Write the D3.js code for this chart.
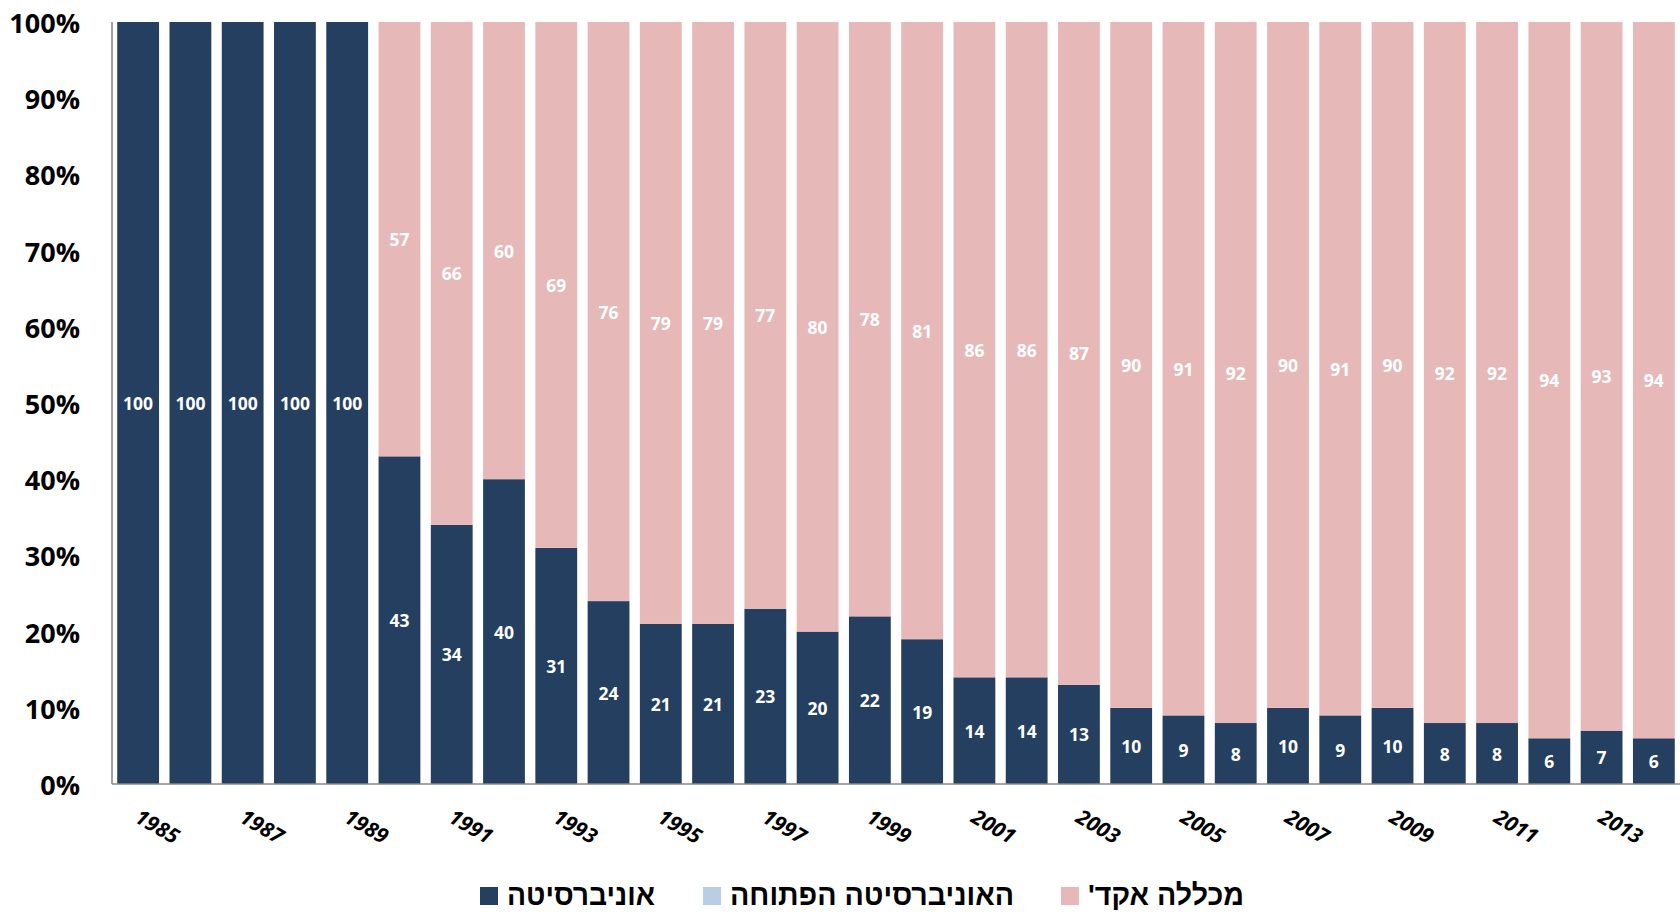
<!DOCTYPE html>
<html>
<head>
<meta charset="utf-8">
<script src="https://cdn.jsdelivr.net/npm/d3@7"></script>
<style>
  html, body { margin: 0; padding: 0; background: #ffffff; }
  svg { display: block; }
</style>
</head>
<body>
<svg id="chart" width="1680" height="913"></svg>
<script>
const years = [1985,1986,1987,1988,1989,1990,1991,1992,1993,1994,1995,1996,1997,1998,1999,2000,2001,2002,2003,2004,2005,2006,2007,2008,2009,2010,2011,2012,2013,2014];
const university = [100,100,100,100,100,43,34,40,31,24,21,21,23,20,22,19,14,14,13,10,9,8,10,9,10,8,8,6,7,6];
const openUniversity = [0,0,0,0,0,0,0,0,0,0,0,0,0,0,0,0,0,0,0,0,0,0,0,0,0,0,0,0,0,0];
const college = [0,0,0,0,0,57,66,60,69,76,79,79,77,80,78,81,86,86,87,90,91,92,90,91,90,92,92,94,93,94];
const yTicks = [0,10,20,30,40,50,60,70,80,90,100];
const xTickYears = [1985,1987,1989,1991,1993,1995,1997,1999,2001,2003,2005,2007,2009,2011,2013];
const seriesNames = ["אוניברסיטה", "האוניברסיטה הפתוחה", "מכללה אקד'"];
const seriesColors = ["#253F60", "#B9CDE5", "#E6B9B8"];

const svg = d3.select("#chart");
const x0 = 112, x1 = 1680, yTop = 22, yBot = 784;

const x = d3.scaleBand().domain(years).range([x0, x1]).paddingInner(0.2).paddingOuter(0.1);
const y = d3.scaleLinear().domain([0, 100]).range([yBot, yTop]);

const rows = years.map((yr, i) => ({year: yr, s0: university[i], s1: openUniversity[i], s2: college[i]}));
const stack = d3.stack().keys(["s0", "s1", "s2"]);
const stacked = stack(rows);

const g = svg.append("g");
stacked.forEach((layer, li) => {
  g.append("g").selectAll("rect").data(layer).join("rect")
    .attr("x", d => x(d.data.year))
    .attr("width", x.bandwidth())
    .attr("y", d => y(d[1]))
    .attr("height", d => y(d[0]) - y(d[1]))
    .attr("fill", seriesColors[li]);
});

// value labels
stacked.forEach((layer, li) => {
  g.append("g").selectAll("text").data(layer.filter(d => d[1] - d[0] > 0 && li !== 1)).join("text")
    .attr("x", d => x(d.data.year) + x.bandwidth() / 2)
    .attr("y", d => (y(d[0]) + y(d[1])) / 2)
    .attr("text-anchor", "middle")
    .attr("dominant-baseline", "central")
    .attr("fill", "#ffffff")
    .style("font-family", "'Open Sans', 'Liberation Sans', sans-serif")
    .style("font-weight", "bold")
    .style("font-size", "17.5px")
    .text(d => d[1] - d[0]);
});

// axes lines
svg.append("line").attr("x1", x0).attr("x2", x0).attr("y1", yTop).attr("y2", yBot)
  .attr("stroke", "#8a8a8a").attr("stroke-width", 1.6);
svg.append("line").attr("x1", x0).attr("x2", x1).attr("y1", yBot).attr("y2", yBot)
  .attr("stroke", "#8a8a8a").attr("stroke-width", 1.6);

// y tick labels
const yAxis = d3.axisLeft(y).tickValues(yTicks).tickFormat(d => d + "%").tickSize(0).tickPadding(32);
const ya = svg.append("g").attr("transform", `translate(${x0},0)`).call(yAxis);
ya.select(".domain").remove();
ya.selectAll("text")
  .attr("fill", "#000")
  .attr("dy", null)
  .attr("dominant-baseline", "central")
  .style("font-family", "'Open Sans', 'Liberation Sans', sans-serif")
  .style("font-weight", "bold")
  .style("font-size", "27px");

// x tick labels
const xl = svg.append("g");
xl.selectAll("text").data(xTickYears).join("text")
  .attr("transform", d => `translate(${x(d) + x.bandwidth() / 2 + 19.5},826) rotate(30)`)
  .attr("text-anchor", "middle")
  .attr("dominant-baseline", "central")
  .attr("fill", "#000")
  .style("font-family", "'Open Sans', 'Liberation Sans', sans-serif")
  .style("font-weight", "bold")
  .style("font-style", "italic")
  .style("font-size", "21px")
  .text(d => d);

// legend
const legendX = [480, 703, 1061];
const legendW = [148, 284, 156];
const lg = svg.append("g");
seriesNames.forEach((name, i) => {
  lg.append("rect").attr("x", legendX[i]).attr("y", 887).attr("width", 18).attr("height", 18)
    .attr("fill", seriesColors[i]);
  lg.append("text")
    .attr("x", legendX[i] + 27)
    .attr("y", 905)
    .attr("direction", "rtl")
    .attr("text-anchor", "end")
    .attr("fill", "#000")
    .attr("textLength", legendW[i])
    .attr("lengthAdjust", "spacingAndGlyphs")
    .style("font-family", "'Liberation Sans', Arial, sans-serif")
    .style("font-weight", "bold")
    .style("font-size", "29px")
    .text(name);
});
</script>
</body>
</html>
